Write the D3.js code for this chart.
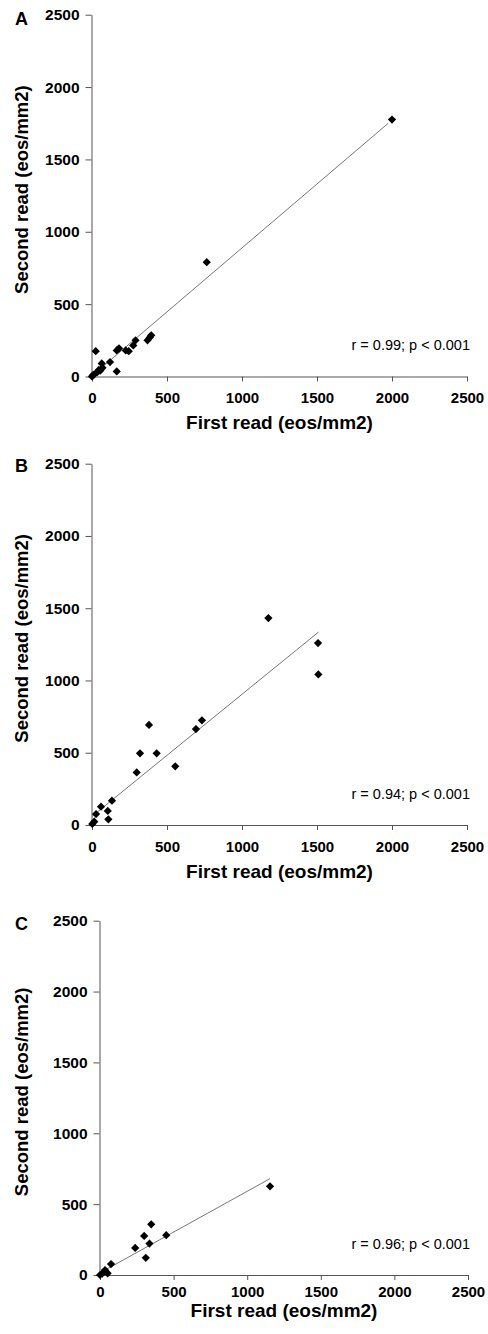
<!DOCTYPE html>
<html>
<head>
<meta charset="utf-8">
<script src="https://cdn.jsdelivr.net/npm/d3@7"></script>
<style>
  body { margin: 0; background: #fff; }
  svg { display: block; font-family: "Liberation Sans", Arial, sans-serif; }
</style>
</head>
<body>
<svg id="chart" width="488" height="1334"></svg>
<script>
/*******************
 * Data
 *******************/
const tickValues = [0, 500, 1000, 1500, 2000, 2500];
const panelLetters = ["A", "B", "C"];
const statLabels = ["r = 0.99; p < 0.001", "r = 0.94; p < 0.001", "r = 0.96; p < 0.001"];
const xTitle = "First read (eos/mm2)";
const yTitle = "Second read (eos/mm2)";

// Panel A
const firstA  = [0, 5, 15, 25, 35, 45, 55, 65, 70, 120, 165, 165, 180, 225, 245, 275, 290, 370, 385, 395, 765, 2000];
const secondA = [0, 8, 15, 175, 30, 45, 40, 90, 60, 100, 35, 180, 195, 180, 175, 215, 250, 250, 270, 285, 790, 1775];
const fitA = [[0, 5], [1975, 1750]];

// Panel B
const firstB  = [2, 15, 27, 60, 105, 109, 133, 298, 320, 380, 431, 555, 693, 733, 1176, 1509, 1507];
const secondB = [7, 23, 76, 127, 97, 39, 168, 364, 496, 692, 496, 406, 664, 724, 1432, 1042, 1259];
const fitB = [[0, 60], [1510, 1335]];

// Panel C
const firstC  = [0, 15, 34, 52, 75, 239, 300, 336, 311, 348, 450, 1155];
const secondC = [0, 10, 35, 12, 77, 191, 276, 222, 121, 358, 281, 626];
const fitC = [[0, 15], [1155, 680]];

/*******************
 * Layout per panel
 *******************/
const panels = [
  { first: firstA, second: secondA, fit: fitA, x0: 92, x1: 467, yTop: 14.7, yBot: 376.5,
    xLabGap: 26.5, xTitleGap: 52.5, letterY: 25 },
  { first: firstB, second: secondB, fit: fitB, x0: 92, x1: 467, yTop: 463.7, yBot: 825,
    xLabGap: 27, xTitleGap: 53, letterY: 472 },
  { first: firstC, second: secondC, fit: fitC, x0: 100, x1: 468, yTop: 920.7, yBot: 1275,
    xLabGap: 22, xTitleGap: 42, letterY: 930 }
];

const svg = d3.select("#chart");
const axisColor = "#555";
const fmt = d3.format("d");
const diamond = d3.symbol().type(d3.symbolSquare).size(34);

panels.forEach((p, i) => {
  const g = svg.append("g");
  const x = d3.scaleLinear().domain([0, 2500]).range([p.x0, p.x1]);
  const y = d3.scaleLinear().domain([0, 2500]).range([p.yBot, p.yTop]);

  // x axis
  const xAxis = g.append("g")
    .attr("transform", `translate(0,${p.yBot})`)
    .call(d3.axisBottom(x).tickValues(tickValues).tickFormat(fmt).tickSize(5).tickSizeOuter(0).tickPadding(0));
  xAxis.select(".domain").attr("stroke", axisColor);
  xAxis.selectAll(".tick line").attr("stroke", axisColor);
  xAxis.selectAll(".tick text")
    .attr("y", p.xLabGap).attr("dy", 0)
    .attr("font-size", 15).attr("font-weight", "bold").attr("fill", "#000")
    .attr("font-family", "Liberation Sans, Arial, sans-serif");

  // y axis
  const yAxis = g.append("g")
    .attr("transform", `translate(${p.x0 - 0.5},0)`)
    .call(d3.axisLeft(y).tickValues(tickValues).tickFormat(fmt).tickSize(6).tickSizeOuter(0).tickPadding(6));
  yAxis.select(".domain").attr("stroke", axisColor);
  yAxis.selectAll(".tick line").attr("stroke", axisColor);
  yAxis.selectAll(".tick text")
    .attr("font-size", 15.5).attr("font-weight", "bold").attr("fill", "#000")
    .attr("font-family", "Liberation Sans, Arial, sans-serif");

  // trend line
  g.append("line")
    .attr("x1", x(p.fit[0][0])).attr("y1", y(p.fit[0][1]))
    .attr("x2", x(p.fit[1][0])).attr("y2", y(p.fit[1][1]))
    .attr("stroke", "#777").attr("stroke-width", 1);

  // points
  g.selectAll(".pt")
    .data(p.first.map((v, j) => [v, p.second[j]]))
    .enter()
    .append("path")
    .attr("class", "pt")
    .attr("d", diamond)
    .attr("transform", d => `translate(${x(d[0])},${y(d[1])}) rotate(45)`)
    .attr("fill", "#000");

  // stats label
  g.append("text")
    .attr("x", 470).attr("y", p.yBot - 26.5)
    .attr("text-anchor", "end")
    .attr("font-size", 14.5)
    .text(statLabels[i]);

  // axis titles
  g.append("text")
    .attr("x", (p.x0 + p.x1) / 2).attr("y", p.yBot + p.xTitleGap)
    .attr("text-anchor", "middle")
    .attr("font-size", 19).attr("font-weight", "bold")
    .text(xTitle);

  g.append("text")
    .attr("transform", `translate(28,${(p.yTop + p.yBot) / 2 - 6}) rotate(-90)`)
    .attr("text-anchor", "middle")
    .attr("font-size", 18.5).attr("font-weight", "bold")
    .text(yTitle);

  // panel letter
  g.append("text")
    .attr("x", 15).attr("y", p.letterY)
    .attr("font-size", 18).attr("font-weight", "bold")
    .text(panelLetters[i]);
});
</script>
</body>
</html>
